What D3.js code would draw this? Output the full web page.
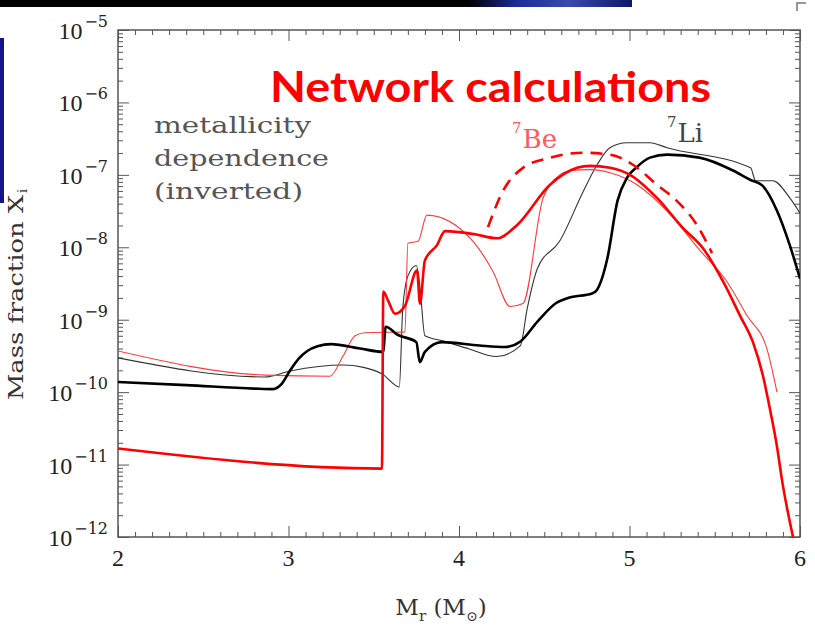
<!DOCTYPE html>
<html>
<head>
<meta charset="utf-8">
<script src="https://cdn.jsdelivr.net/npm/d3@7"></script>
<style>
  body { margin: 0; background: #fff; }
  svg { display: block; }
</style>
</head>
<body>
<div id="chart"></div>
<script>
const width = 815;
const height = 627;
const margin = { top: 30, right: 15, bottom: 90, left: 118 };

const xDomain = [2, 6];
const yDomain = [1e-12, 1e-5];
const xMajor = [2, 3, 4, 5, 6];
const yMajorExp = [-5, -6, -7, -8, -9, -10, -11, -12];

// [M_r, mass fraction]
const li7Main = [
  [2.00, 1.38e-10], [2.40, 1.25e-10], [2.80, 1.12e-10], [2.91, 1.10e-10], [2.96, 1.3e-10],
  [3.01, 2.0e-10], [3.06, 2.9e-10], [3.11, 3.7e-10], [3.17, 4.3e-10], [3.25, 4.6e-10],
  [3.42, 4.0e-10], [3.555, 3.6e-10], [3.57, 8.0e-10], [3.64, 6.2e-10], [3.75, 4.9e-10],
  [3.77, 2.6e-10], [3.80, 3.6e-10], [3.90, 4.9e-10], [4.12, 4.4e-10], [4.27, 4.2e-10],
  [4.36, 5.0e-10], [4.46, 9.4e-10], [4.57, 1.7e-9], [4.64, 2.0e-9], [4.78, 2.3e-9],
  [4.81, 2.6e-9], [4.87, 7.0e-9], [4.93, 4.4e-8], [4.985, 9.1e-8], [5.04, 1.26e-7],
  [5.12, 1.73e-7], [5.22, 1.9e-7], [5.41, 1.73e-7], [5.61, 1.14e-7], [5.71, 8.5e-8],
  [5.78, 7.1e-8], [5.865, 3.2e-8], [5.94, 1.07e-8], [6.00, 3.7e-9]
];
const li7Inverted = [
  [2.00, 2.97e-10], [2.86, 1.62e-10], [3.01, 1.96e-10], [3.32, 2.37e-10], [3.44, 2.2e-10],
  [3.55, 1.78e-10], [3.65, 1.18e-10], [3.67, 1.42e-9], [3.70, 4.0e-9], [3.75, 5.6e-9],
  [3.77, 2.97e-9], [3.80, 6.0e-10], [3.905, 5.1e-10], [4.06, 3.95e-10], [4.22, 3.1e-10],
  [4.36, 4.4e-10], [4.40, 1.42e-9], [4.46, 5.1e-9], [4.59, 1.21e-8], [4.73, 6.0e-8],
  [4.81, 1.38e-7], [4.885, 2.37e-7], [4.985, 2.78e-7], [5.12, 2.78e-7], [5.22, 2.37e-7],
  [5.71, 1.25e-7], [5.74, 8.3e-8], [5.84, 8.3e-8], [5.94, 4.8e-8], [6.00, 2.96e-8]
];
const be7Main = [
  [2.00, 1.67e-11], [3.548, 8.8e-12], [3.556, 2.45e-9], [3.584, 1.84e-9], [3.625, 1.21e-9],
  [3.683, 1.56e-9], [3.754, 4.8e-9], [3.771, 1.67e-9], [3.80, 6.6e-9], [3.871, 1.07e-8],
  [3.918, 1.67e-8], [4.094, 1.51e-8], [4.223, 1.33e-8], [4.34, 2.02e-8], [4.534, 7.3e-8],
  [4.692, 1.25e-7], [4.768, 1.33e-7], [4.886, 1.25e-7], [5.003, 1.0e-7], [5.161, 4.8e-8],
  [5.314, 1.84e-8], [5.431, 9.7e-9], [5.548, 3.4e-9], [5.648, 1.14e-9], [5.724, 4.9e-10],
  [5.783, 1.67e-10], [5.824, 5.8e-11], [5.865, 1.78e-11], [5.894, 6.2e-12], [5.959, 1.0e-12]
];
const be7Inverted = [
  [2.00, 3.7e-10], [2.862, 1.72e-10], [3.243, 1.66e-10], [3.32, 3.16e-10], [3.39, 6.0e-10],
  [3.449, 6.6e-10], [3.683, 6.8e-10], [3.70, 1.14e-8], [3.76, 1.21e-8], [3.812, 2.78e-8],
  [4.082, 1.21e-8], [4.20, 4.6e-9], [4.30, 1.52e-9], [4.375, 1.67e-9], [4.493, 4.8e-8],
  [4.534, 7.3e-8], [4.651, 1.14e-7], [4.768, 1.18e-7], [4.886, 1.07e-7], [5.044, 7.3e-8],
  [5.22, 3.16e-8], [5.414, 9.0e-9], [5.57, 3.4e-9], [5.689, 1.14e-9], [5.806, 3.95e-10],
  [5.865, 1.0e-10]
];
const be7Dashed = [
  [4.17, 1.9e-8], [4.258, 6.0e-8], [4.375, 1.25e-7], [4.534, 1.72e-7], [4.727, 2.02e-7],
  [4.886, 1.9e-7], [5.02, 1.38e-7], [5.161, 7.3e-8], [5.279, 4.35e-8], [5.396, 2.02e-8],
  [5.484, 8.3e-9]
];
const noteLines = ['metallicity', 'dependence', '(inverted)'];

const svg = d3.select('#chart')
  .append('svg')
  .attr('width', width)
  .attr('height', height);

// slide remnants round the figure
const grad = svg.append('defs').append('linearGradient').attr('id', 'band');
grad.append('stop').attr('offset', '0%').attr('stop-color', '#000');
grad.append('stop').attr('offset', '74%').attr('stop-color', '#000');
grad.append('stop').attr('offset', '82%').attr('stop-color', '#1c2c9c');
grad.append('stop').attr('offset', '90%').attr('stop-color', '#3a4ab0');
grad.append('stop').attr('offset', '100%').attr('stop-color', '#10186a');
svg.append('rect').attr('x', 0).attr('y', 0).attr('width', 632).attr('height', 7).attr('fill', 'url(#band)');
svg.append('rect').attr('x', 0).attr('y', 38).attr('width', 4).attr('height', 165).attr('fill', '#14148c');
svg.append('path').attr('d', 'M797,11V3H806').attr('fill', 'none').attr('stroke', '#777').attr('stroke-width', 1.5);

const x = d3.scaleLinear().domain(xDomain).range([margin.left, width - margin.right]);
const y = d3.scaleLog().domain(yDomain).range([height - margin.bottom, margin.top]);

const xMinor = d3.range(20, 61).map((d) => d / 10).filter((d) => !xMajor.includes(d));
const yMinor = [];
for (let e = -12; e < -5; e++) {
  for (let m = 2; m <= 9; m++) yMinor.push(m * Math.pow(10, e));
}
const yMajor = yMajorExp.map((e) => Math.pow(10, e));

const tickAxis = (axis, values, size, transform) => {
  const g = svg.append('g')
    .attr('transform', transform)
    .call(axis.tickValues(values).tickSize(-size).tickSizeOuter(0).tickFormat(() => ''));
  g.select('.domain').remove();
  g.selectAll('line').attr('stroke', '#555').attr('stroke-width', 1);
};
const bottom = height - margin.bottom;
const right = width - margin.right;
tickAxis(d3.axisBottom(x), xMinor, 5, `translate(0,${bottom})`);
tickAxis(d3.axisBottom(x), xMajor, 11, `translate(0,${bottom})`);
tickAxis(d3.axisTop(x), xMinor, 5, `translate(0,${margin.top})`);
tickAxis(d3.axisTop(x), xMajor, 11, `translate(0,${margin.top})`);
tickAxis(d3.axisLeft(y), yMinor, 5, `translate(${margin.left},0)`);
tickAxis(d3.axisLeft(y), yMajor, 11, `translate(${margin.left},0)`);
tickAxis(d3.axisRight(y), yMinor, 5, `translate(${right},0)`);
tickAxis(d3.axisRight(y), yMajor, 11, `translate(${right},0)`);

svg.append('rect')
  .attr('x', margin.left)
  .attr('y', margin.top)
  .attr('width', right - margin.left)
  .attr('height', bottom - margin.top)
  .attr('fill', 'none')
  .attr('stroke', '#555')
  .attr('stroke-width', 1.5);

// tick labels
svg.append('g').selectAll('text')
  .data(xMajor)
  .enter().append('text')
    .attr('x', (d) => x(d))
    .attr('y', 566)
    .attr('text-anchor', 'middle')
    .attr('font-family', 'Liberation Serif')
    .attr('font-size', 24)
    .attr('fill', '#222')
    .text((d) => d);

const yLabel = svg.append('g').selectAll('text')
  .data(yMajorExp)
  .enter().append('text')
    .attr('x', 108)
    .attr('y', (d) => y(Math.pow(10, d)) + 9)
    .attr('text-anchor', 'end')
    .attr('fill', '#222');
yLabel.append('tspan')
  .attr('font-family', 'Liberation Serif')
  .attr('font-size', 24)
  .text('10');
yLabel.append('tspan')
  .attr('font-family', 'DejaVu Serif')
  .attr('font-size', 16)
  .attr('dx', 2)
  .attr('dy', -12)
  .text((d) => '\u2212' + Math.abs(d));

// axis titles
const xTitle = svg.append('text')
  .attr('x', 441)
  .attr('y', 615)
  .attr('text-anchor', 'middle')
  .attr('font-family', 'DejaVu Serif')
  .attr('font-size', 23)
  .attr('fill', '#333');
xTitle.append('tspan').text('M');
xTitle.append('tspan').attr('font-size', 15).attr('dy', 6).text('r');
xTitle.append('tspan').attr('dy', -6).text(' (M');
xTitle.append('tspan').attr('font-size', 14).attr('dy', 6).text('\u2299');
xTitle.append('tspan').attr('dy', -6).text(')');

const yTitle = svg.append('g').attr('transform', 'translate(23,400) rotate(-90)');
yTitle.append('text')
  .attr('x', 0)
  .attr('y', 0)
  .attr('font-family', 'DejaVu Serif')
  .attr('font-size', 20)
  .attr('fill', '#333')
  .attr('textLength', 205)
  .attr('lengthAdjust', 'spacingAndGlyphs')
  .text('Mass fraction X');
yTitle.append('text')
  .attr('x', 207)
  .attr('y', 4)
  .attr('font-family', 'DejaVu Serif')
  .attr('font-size', 13)
  .attr('fill', '#333')
  .text('i');

// curves
svg.append('clipPath').attr('id', 'plot-clip')
  .append('rect')
  .attr('x', margin.left)
  .attr('y', margin.top)
  .attr('width', right - margin.left)
  .attr('height', bottom - margin.top);

const line = d3.line()
  .x((d) => x(d[0]))
  .y((d) => y(d[1]))
  .curve(d3.curveMonotoneX);

const curves = [
  { data: li7Inverted, color: '#333', width: 1.1, dash: null },
  { data: be7Inverted, color: '#ff3a3a', width: 1.1, dash: null },
  { data: li7Main, color: '#000', width: 2.6, dash: null },
  { data: be7Dashed, color: '#ff0000', width: 2.6, dash: '12,8' },
  { data: be7Main, color: '#ff0000', width: 2.6, dash: null }
];

svg.append('g')
  .attr('clip-path', 'url(#plot-clip)')
  .selectAll('path')
  .data(curves)
  .enter().append('path')
    .attr('d', (d) => line(d.data))
    .attr('fill', 'none')
    .attr('stroke', (d) => d.color)
    .attr('stroke-width', (d) => d.width)
    .attr('stroke-dasharray', (d) => d.dash)
    .attr('stroke-linejoin', 'round');

// annotations
const noteLengths = [157, 175, 149];
svg.append('g').selectAll('text')
  .data(noteLines)
  .enter().append('text')
    .attr('x', 154)
    .attr('y', (d, i) => 133 + i * 33)
    .attr('font-family', 'DejaVu Serif')
    .attr('font-size', 23)
    .attr('fill', '#555')
    .attr('textLength', (d, i) => noteLengths[i])
    .attr('lengthAdjust', 'spacingAndGlyphs')
    .text((d) => d);

svg.append('text')
  .attr('x', 270)
  .attr('y', 102)
  .attr('font-family', 'Lato, "Open Sans", sans-serif')
  .attr('font-weight', 'bold')
  .attr('font-size', 42)
  .attr('fill', '#ff0000')
  .attr('textLength', 441)
  .attr('lengthAdjust', 'spacingAndGlyphs')
  .text('Network calculations');

const isoLabels = [
  { mass: '7', name: 'Be', x: 512, y: 148, color: '#ff5a5a' },
  { mass: '7', name: 'Li', x: 667, y: 142, color: '#444' }
];
const iso = svg.append('g').selectAll('text')
  .data(isoLabels)
  .enter().append('text')
    .attr('x', (d) => d.x)
    .attr('y', (d) => d.y)
    .attr('font-family', 'DejaVu Serif')
    .attr('fill', (d) => d.color);
iso.append('tspan').attr('font-size', 15).attr('dy', -15).text((d) => d.mass);
iso.append('tspan').attr('font-size', 26).attr('dx', 1).attr('dy', 15).text((d) => d.name);
</script>
</body>
</html>
